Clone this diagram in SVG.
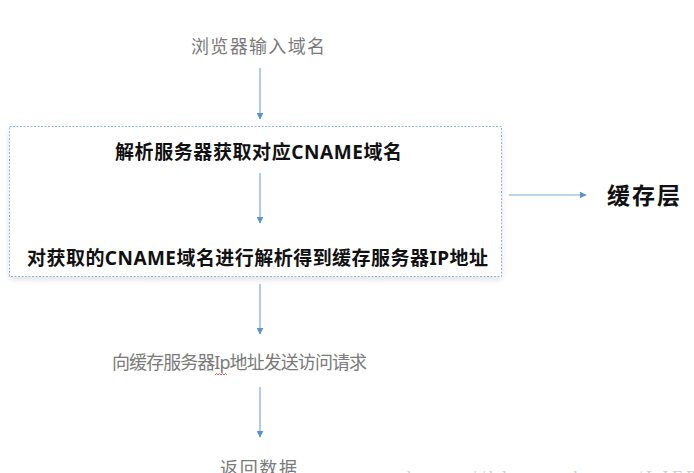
<svg xmlns="http://www.w3.org/2000/svg" width="694" height="473" viewBox="0 0 694 473">
<defs>
<marker id="ah" viewBox="0 0 10 10" refX="9" refY="5" markerWidth="7" markerHeight="7" markerUnits="userSpaceOnUse" orient="auto">
<path d="M0,0 L10,5 L0,10 z" fill="#5b93d3"/>
</marker>
<filter id="sh" x="-5%" y="-5%" width="110%" height="120%">
<feDropShadow dx="0" dy="3" stdDeviation="3" flood-color="#000" flood-opacity="0.12"/>
</filter>
<style>
.c{stroke:#7aa9dc;stroke-width:1.2;fill:none;marker-end:url(#ah)}
.g{font-family:"Noto Sans","Noto Sans CJK SC",sans-serif;font-size:18px;fill:#7a7a7a}
.b{font-family:"Noto Sans","Noto Sans CJK SC",sans-serif;font-size:19px;font-weight:bold;fill:#111}
</style>
</defs>
<rect width="694" height="473" fill="#fff"/>
<g id="box">
<rect x="9.5" y="126.5" width="492" height="150" fill="#fff" filter="url(#sh)"/>
<rect x="9.5" y="126.5" width="492" height="150" fill="none" stroke="#8fb6e3" stroke-width="1" stroke-dasharray="2,1.5"/>
</g>
<g id="connectors">
<line class="c" x1="260" y1="68" x2="260" y2="119"/>
<line class="c" x1="260" y1="173" x2="260" y2="223"/>
<line class="c" x1="260" y1="284" x2="260" y2="334"/>
<line class="c" x1="260" y1="387" x2="260" y2="437"/>
<line class="c" x1="509" y1="195" x2="586" y2="195"/>
</g>
<g id="n1"><text class="g" x="191" y="53" textLength="134" lengthAdjust="spacing">浏览器输入域名</text></g>
<g id="n2"><text class="b" x="115" y="159" textLength="287" lengthAdjust="spacing">解析服务器获取对应CNAME域名</text></g>
<g id="n3"><text class="b" x="27" y="265" textLength="461" lengthAdjust="spacing">对获取的CNAME域名进行解析得到缓存服务器IP地址</text></g>
<g id="n4"><text x="607" y="204" font-family="Noto Sans CJK SC, sans-serif" font-size="23" font-weight="bold" fill="#111" textLength="73" lengthAdjust="spacing">缓存层</text></g>
<g id="n5"><text class="g" x="112" y="369" textLength="255" lengthAdjust="spacing">向缓存服务器Ip地址发送访问请求</text>
<path d="M215,375 l1.5,-1.5 l1.5,1.5 l1.5,-1.5 l1.5,1.5 l1.5,-1.5 l1.5,1.5 l1.5,-1.5 l1.5,1.5" stroke="#e03030" stroke-width="0.8" fill="none"/></g>
<g id="n6"><text class="g" x="220" y="475" textLength="77" lengthAdjust="spacing">返回数据</text></g>
<g id="wm"><text x="407" y="484" font-family="Liberation Serif, serif" font-size="18" fill="#cfcfcf" letter-spacing="4">https://blog.csdn.net/LJFPHP</text></g>
</svg>
